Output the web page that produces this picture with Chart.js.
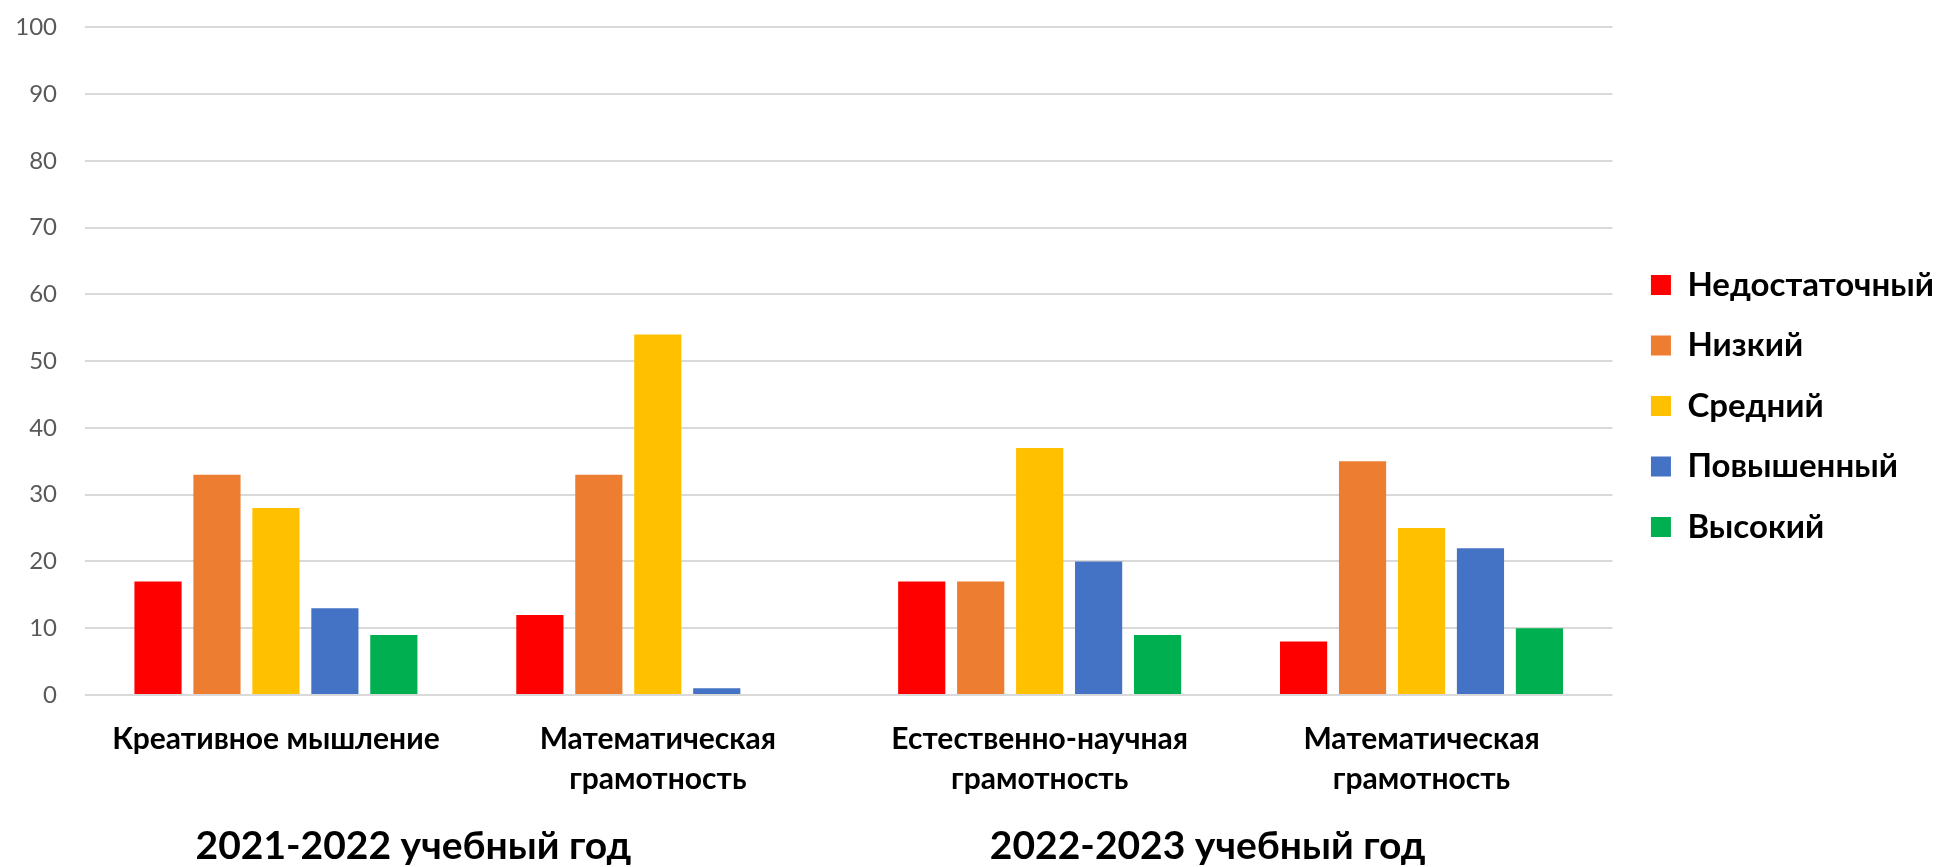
<!DOCTYPE html>
<html>
<head>
<meta charset="utf-8">
<script src="https://cdn.jsdelivr.net/npm/chart.js@4"></script>
<style>
  html, body { margin: 0; padding: 0; background: #fff; }
  #wrap { width: 1944px; height: 867px; }
</style>
</head>
<body>
<div id="wrap"><canvas id="grafico"></canvas></div>
<script>
// categorías del eje X
const categorias = [
    'Креативное мышление',
    ['Математическая', 'грамотность'],
    ['Естественно-научная', 'грамотность'],
    ['Математическая', 'грамотность']
];
const anios = ['2021-2022 учебный год', '2022-2023 учебный год'];

// niveles (series)
const niveles = ['Недостаточный', 'Низкий', 'Средний', 'Повышенный', 'Высокий'];
const colores = ['#FF0000', '#ED7D31', '#FFC000', '#4472C4', '#00B050'];

const nedostatochny = [17, 12, 17, 8];
const nizky = [33, 33, 17, 35];
const sredny = [28, 54, 37, 25];
const povyshenny = [13, 1, 20, 22];
const vysoky = [9, 0, 9, 10];

const ticksY = [0, 10, 20, 30, 40, 50, 60, 70, 80, 90, 100];

const FUENTE = 'Lato, "Open Sans", sans-serif';

const series = [nedostatochny, nizky, sredny, povyshenny, vysoky];

// títulos de año debajo de los grupos
const titulosAnios = {
    id: 'titulosAnios',
    afterDraw(chart) {
        const x = chart.scales.x;
        const ctx = chart.ctx;
        const pos = [0.36, 2.44];
        ctx.save();
        ctx.font = 'bold 39px ' + FUENTE;
        ctx.fillStyle = '#000';
        ctx.textAlign = 'center';
        ctx.textBaseline = 'middle';
        anios.forEach((t, i) => {
            ctx.fillText(t, x.getPixelForValue(pos[i]), 846);
        });
        ctx.restore();
    }
};

new Chart(document.getElementById('grafico'), {
    type: 'bar',
    data: {
        labels: categorias,
        datasets: niveles.map((n, i) => ({
            label: n,
            data: series[i],
            backgroundColor: colores[i],
            borderWidth: 0,
            categoryPercentage: 0.772,
            barPercentage: 0.8
        }))
    },
    options: {
        responsive: true,
        maintainAspectRatio: false,
        animation: false,
        layout: { padding: { top: 0, bottom: 44, left: 0, right: 0 } },
        plugins: {
            legend: {
                position: 'right',
                align: 'start',
                // título vacío solo para bajar la leyenda
                title: { display: true, text: '', font: { size: 12, lineHeight: 1 }, padding: { top: 229, bottom: 0 } },
                labels: {
                    color: '#000',
                    font: { family: FUENTE, size: 33, weight: 'bold' },
                    boxWidth: 20,
                    boxHeight: 20,
                    padding: 27.5
                }
            },
            tooltip: { enabled: false }
        },
        scales: {
            x: {
                grid: { display: false, drawTicks: false },
                border: { display: false },
                ticks: {
                    color: '#000',
                    padding: 24,
                    maxRotation: 0,
                    autoSkip: false,
                    font: { family: FUENTE, size: 30, weight: 'bold', lineHeight: 1.333 }
                }
            },
            y: {
                min: 0,
                max: 100,
                afterBuildTicks: s => { s.ticks = ticksY.map(v => ({ value: v })); },
                afterFit: s => { s.width = 85; },
                grid: { color: '#D9D9D9', lineWidth: 2, drawTicks: true, tickLength: 15, tickColor: 'rgba(0,0,0,0)' },
                border: { display: false },
                ticks: {
                    color: '#595959',
                    padding: 13,
                    font: { family: FUENTE, size: 24 }
                }
            },
            y2: {
                position: 'right',
                display: true,
                grid: { display: false, drawTicks: false },
                border: { display: false },
                ticks: { display: false },
                afterFit: s => { s.width = 11; }
            }
        }
    },
    plugins: [titulosAnios]
});
</script>
</body>
</html>
